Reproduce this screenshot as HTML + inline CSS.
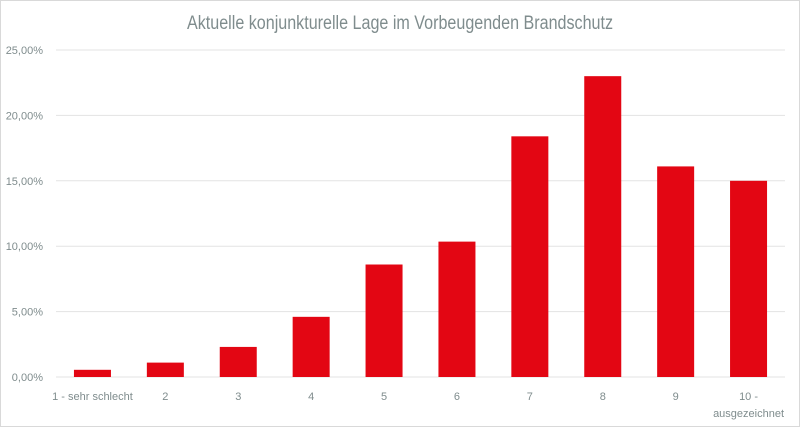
<!DOCTYPE html>
<html><head><meta charset="utf-8"><style>
html,body{margin:0;padding:0;background:#fff}
svg{display:block;font-family:"Liberation Sans",sans-serif}
</style></head><body>
<svg id="chart" width="800" height="427" viewBox="0 0 800 427">
<rect x="0.5" y="0.5" width="799" height="426" fill="#fff" stroke="#d9d9d9"/>
<text x="400" y="29" text-anchor="middle" font-size="19" fill="#7f8c8d" textLength="426" lengthAdjust="spacingAndGlyphs">Aktuelle konjunkturelle Lage im Vorbeugenden Brandschutz</text>
<g id="grid"></g><g id="bars"></g><g id="xlabels"></g>
</svg>
<script>
const categories=["1 - sehr schlecht","2","3","4","5","6","7","8","9","10 -|ausgezeichnet"];
const values=[0.55,1.1,2.3,4.6,8.6,10.35,18.4,23.0,16.1,15.0];
const yTicks=[0,5,10,15,20,25];
const yTickLabels=["0,00%","5,00%","10,00%","15,00%","20,00%","25,00%"];
const NS="http://www.w3.org/2000/svg";
const plotL=56,plotR=785,y0=377,pxPer=65.4/5;
const y=v=>y0-v*pxPer;
const step=(plotR-plotL)/categories.length;
const x=i=>plotL+step*(i+0.5);
const bw=37;
const grid=document.getElementById('grid'),bars=document.getElementById('bars'),xl=document.getElementById('xlabels');
yTicks.forEach((t,i)=>{
 const l=document.createElementNS(NS,'line');
 
 
 l.setAttribute('x1',plotL);l.setAttribute('x2',plotR);l.setAttribute('y1',y(t));l.setAttribute('y2',y(t));
 l.setAttribute('stroke','#e3e3e3');l.setAttribute('stroke-width','1');
 grid.appendChild(l);
 const tx=document.createElementNS(NS,'text');
 
 
 tx.setAttribute('x',43);tx.setAttribute('y',y(t)+4);tx.setAttribute('text-anchor','end');
 tx.setAttribute('font-size','11');tx.setAttribute('fill','#7f8c8d');
 tx.textContent=yTickLabels[i];grid.appendChild(tx);
});
values.forEach((v,i)=>{
 const r=document.createElementNS(NS,'rect');
 
 
 r.setAttribute('x',x(i)-bw/2);r.setAttribute('y',y(v));r.setAttribute('width',bw);r.setAttribute('height',y0-y(v));
 r.setAttribute('fill','#e30613');bars.appendChild(r);
 const parts=categories[i].split('|');
 parts.forEach((p,j)=>{
  const t=document.createElementNS(NS,'text');
  
  
  t.setAttribute('x',x(i));t.setAttribute('y',400+j*17);t.setAttribute('text-anchor','middle');
  t.setAttribute('font-size','11');t.setAttribute('fill','#7f8c8d');
  t.textContent=p;xl.appendChild(t);
 });
});
</script>
</body></html>
